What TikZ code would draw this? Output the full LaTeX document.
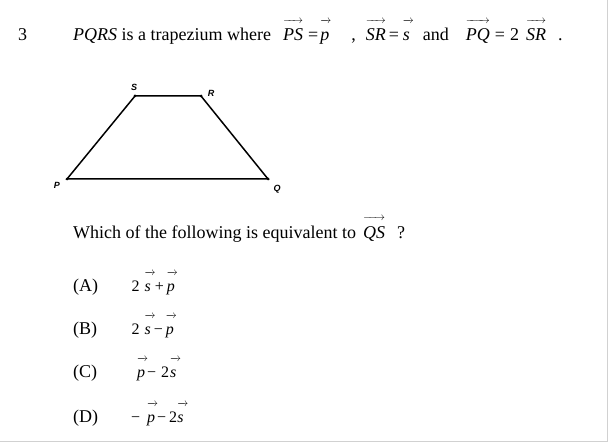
\documentclass[tikz,border=0pt]{standalone}
\usepackage{fontspec}
\setmainfont{Liberation Serif}
\newfontfamily\lblfont{Liberation Sans}
\newsavebox\vecbox
\newcommand{\vect}[1]{\sbox\vecbox{\itshape #1\/}\ht\vecbox=0.97em\leavevmode\vbox{\offinterlineskip
  \hbox to\wd\vecbox{\fontsize{10.5}{10.5}\selectfont\rightarrowfill}\copy\vecbox}}
\newcommand{\gap}[1]{\hspace*{#1pt}}
\tikzset{
  txt/.style={anchor=base west, inner sep=0pt, font=\fontsize{18}{21}\selectfont},
  expr/.style={anchor=base west, inner sep=0pt, font=\fontsize{16}{19}\selectfont},
  lbl/.style={inner sep=0pt, font=\lblfont\bfseries\itshape\fontsize{9}{10}\selectfont},
  dot/.style={circle, fill=black, inner sep=0pt, minimum size=3pt}
}
\begin{document}
\begin{tikzpicture}[x=1pt, y=-1pt]
            \useasboundingbox (0,0) rectangle (609,443);
            % frame edges
            \draw[black!18, line width=1.5pt] (607.5,0) -- (607.5,441.5) -- (0,441.5);

            % question line
            \node[txt] (num) at (18,41) {3};
            \node[txt] (stem) at (73,41) {\textit{PQRS} is a trapezium where\gap{12}\vect{PS}\gap{5}=\gap{2}\vect{p}\gap{22},\gap{10}\vect{SR}\gap{3}=\gap{4}\vect{s}\gap{13}and\gap{17}\vect{PQ}\gap{5}=\gap{5}2\gap{7}\vect{SR}\gap{12}.};

            % trapezium
            \node[dot] (P) at (67,179) {};
            \node[dot] (Q) at (268,179) {};
            \node[dot] (R) at (201,96) {};
            \node[dot] (S) at (135,96) {};
            \draw[line width=1.5pt] (P.center) -- (Q.center) -- (R.center) -- (S.center) -- cycle;
            \node[lbl] (labP) at (57,185) {P};
            \node[lbl] (labQ) at (277,189) {Q};
            \node[lbl] (labR) at (211,93) {R};
            \node[lbl] (labS) at (134,87) {S};

            % options
            \node[txt] (ask) at (73,238) {Which of the following is equivalent to\gap{7}\vect{QS}\gap{12}?};
            \node[txt] (optA) at (73,291.5) {(A)};
            \node[txt] (optB) at (73,334) {(B)};
            \node[txt] (optC) at (73,377.5) {(C)};
            \node[txt] (optD) at (73,422.5) {(D)};
            \node[expr] (ansA) at (131.5,291.5) {2\gap{5}\vect{s}\gap{4}+\gap{3}\vect{p}};
            \node[expr] (ansB) at (131.5,334) {2\gap{5}\vect{s}\gap{3}−\gap{3}\vect{p}};
            \node[expr] (ansC) at (137,377.5) {\vect{p}\gap{2}−\gap{5}2\gap{1}\vect{s}};
            \node[expr] (ansD) at (131,422.5) {−\gap{7}\vect{p}\gap{2}−\gap{3}2\vect{s}};
        \end{tikzpicture}
\end{document}
